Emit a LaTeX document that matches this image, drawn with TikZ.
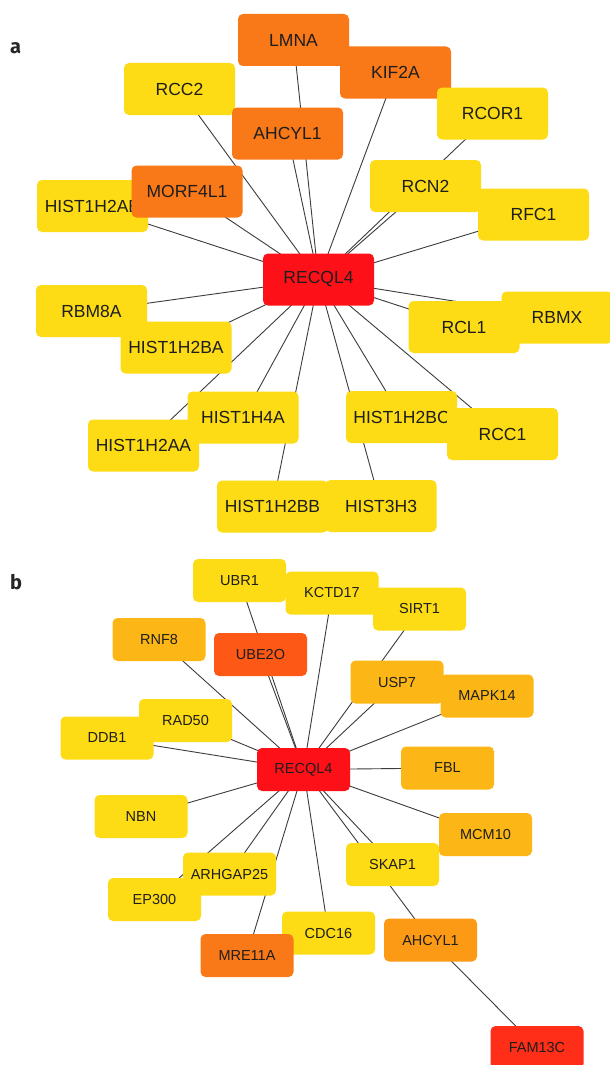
\documentclass[tikz,border=0pt]{standalone}
\usepackage{fontspec}
\setmainfont{Liberation Sans}
\newfontfamily\panelfont{Fira Sans}
\pgfdeclarelayer{bg}
\pgfdeclarelayer{paper}
\pgfsetlayers{paper,bg,main}
\definecolor{cyel}{HTML}{FDDC15}
\definecolor{corg}{HTML}{F97818}
\definecolor{cred}{HTML}{FE1018}
\definecolor{camb}{HTML}{FCB716}
\definecolor{cdor}{HTML}{FD9A15}
\definecolor{cube}{HTML}{FD5816}
\definecolor{cfam}{HTML}{FE2E18}
\definecolor{ctxt}{HTML}{1E1E1E}
\definecolor{cedge}{HTML}{3C3C3C}
\tikzset{
  boxa/.style={rounded corners=5pt, minimum width=111pt, minimum height=52pt, inner sep=0pt,
    text=ctxt, font=\fontsize{17.5}{20}\selectfont},
  boxb/.style={rounded corners=5pt, minimum width=93pt, minimum height=43pt, inner sep=0pt,
    text=ctxt, font=\fontsize{14.5}{17}\selectfont},
  edge/.style={draw=cedge, line width=0.9pt},
  plabel/.style={anchor=base west, inner sep=0pt, font=\panelfont\bfseries\fontsize{20}{22}\selectfont, text=black!85}
}
\begin{document}
\begin{tikzpicture}[x=1pt,y=-1pt]
\useasboundingbox (0,0) rectangle (610,1065);
\clip (0,0) rectangle (610,1065);
\begin{pgfonlayer}{paper}
\fill[white] (0,0) rectangle (610,1065);
\end{pgfonlayer}
\node[plabel] (la) at (10,53) {a};
\node[plabel] (lb) at (10,589) {b};
% ---------- panel a ----------
\node[boxa, fill=cred] (ra) at (318.5,279.5) {RECQL4};
\node[boxa, fill=corg] (lmna) at (293.5,40) {LMNA};
\node[boxa, fill=corg] (kif2a) at (395.5,72.5) {KIF2A};
\node[boxa, fill=cyel] (rcc2) at (179.5,89) {RCC2};
\node[boxa, fill=corg] (ahcyla) at (287.5,133.5) {AHCYL1};
\node[boxa, fill=cyel] (rcor1) at (492.5,113.5) {RCOR1};
\node[boxa, fill=cyel] (rcn2) at (425.5,186) {RCN2};
\node[boxa, fill=cyel] (rfc1) at (533.5,214.5) {RFC1};
\node[boxa, fill=cyel] (h2ab) at (92.5,206) {HIST1H2AB};
\node[boxa, fill=corg] (morf) at (187,191.5) {MORF4L1};
\node[boxa, fill=cyel] (rbm8a) at (91.5,311) {RBM8A};
\node[boxa, fill=cyel] (h2ba) at (176,347.5) {HIST1H2BA};
\node[boxa, fill=cyel] (rbmx) at (557,317.5) {RBMX};
\node[boxa, fill=cyel] (rcl1) at (464,327) {RCL1};
\node[boxa, fill=cyel] (h4a) at (243,417.5) {HIST1H4A};
\node[boxa, fill=cyel] (h2aa) at (143.5,445.5) {HIST1H2AA};
\node[boxa, fill=cyel] (h2bc) at (401.5,417) {HIST1H2BC};
\node[boxa, fill=cyel] (rcc1) at (502.5,434) {RCC1};
\node[boxa, fill=cyel] (h2bb) at (272.5,506.5) {HIST1H2BB};
\node[boxa, fill=cyel] (h3h3) at (381,506) {HIST3H3};
% ---------- panel b ----------
\node[boxb, fill=cred] (rb) at (303.5,769.5) {RECQL4};
\node[boxb, fill=cyel] (ubr1) at (239.5,580.5) {UBR1};
\node[boxb, fill=cyel] (kctd) at (332,593) {KCTD17};
\node[boxb, fill=cyel] (sirt1) at (419.5,609) {SIRT1};
\node[boxb, fill=camb] (rnf8) at (159,639.5) {RNF8};
\node[boxb, fill=cube] (ube2o) at (260.5,654.5) {UBE2O};
\node[boxb, fill=camb] (usp7) at (397,682) {USP7};
\node[boxb, fill=camb] (mapk) at (487,696) {MAPK14};
\node[boxb, fill=cyel] (rad50) at (185.5,720.5) {RAD50};
\node[boxb, fill=cyel] (ddb1) at (107,738) {DDB1};
\node[boxb, fill=camb] (fbl) at (447.5,768) {FBL};
\node[boxb, fill=cyel] (nbn) at (141,816.5) {NBN};
\node[boxb, fill=camb] (mcm10) at (485.5,834.5) {MCM10};
\node[boxb, fill=cyel] (skap1) at (392.5,864.5) {SKAP1};
\node[boxb, fill=cyel] (ep300) at (154.5,899.5) {EP300};
\node[boxb, fill=cyel] (arhg) at (229.5,874) {ARHGAP25};
\node[boxb, fill=cyel] (cdc16) at (328.5,933) {CDC16};
\node[boxb, fill=corg] (mre11a) at (247,955.5) {MRE11A};
\node[boxb, fill=cdor] (ahcylb) at (430.5,940) {AHCYL1};
\node[boxb, fill=cfam] (fam13c) at (537,1047.5) {FAM13C};
% ---------- edges ----------
\begin{pgfonlayer}{bg}
\foreach \n in {lmna,kif2a,rcc2,ahcyla,rcor1,rcn2,rfc1,h2ab,morf,rbm8a,h2ba,rbmx,rcl1,h4a,h2aa,h2bc,rcc1,h2bb,h3h3}
  \draw[edge] (ra.center) -- (\n.center);
\foreach \n in {ubr1,kctd,sirt1,rnf8,ube2o,usp7,mapk,rad50,ddb1,fbl,nbn,mcm10,skap1,ep300,arhg,cdc16,mre11a,ahcylb}
  \draw[edge] (rb.center) -- (\n.center);
\draw[edge] (ahcylb.center) -- (fam13c.center);
\end{pgfonlayer}
\end{tikzpicture}
\end{document}
